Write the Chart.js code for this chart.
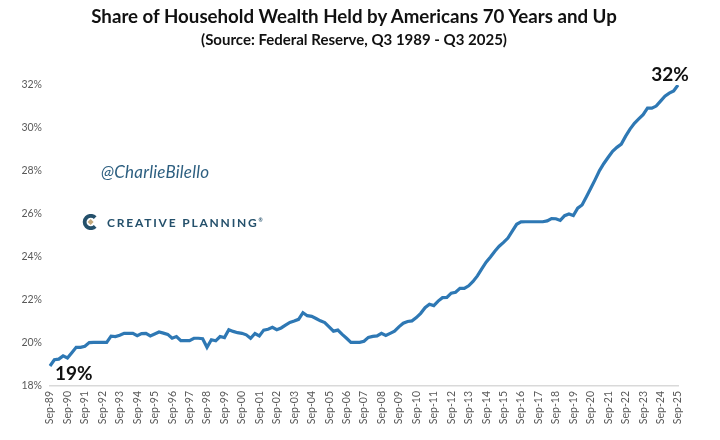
<!DOCTYPE html>
<html>
<head>
<meta charset="utf-8">
<script src="https://cdn.jsdelivr.net/npm/chart.js@4.4.1/dist/chart.umd.min.js"></script>
<style>
  html,body{margin:0;padding:0;background:#fff;}
  #wrap{position:relative;width:720px;height:440px;overflow:hidden;font-family:Lato,'Open Sans',sans-serif;}
  #wrap canvas{position:absolute;left:0;top:0;}
  .title{position:absolute;left:0;width:708px;text-align:center;color:#111;font-weight:bold;white-space:nowrap;}
  #t1{top:5px;font-size:18.7px;}
  #t2{top:30px;font-size:15px;}
  #handle{position:absolute;left:101px;top:161px;font-size:17px;font-style:italic;color:#2d5f80;letter-spacing:0.2px;}
  #logo{position:absolute;left:82px;top:214px;display:flex;align-items:center;}
  #logo span{margin-left:9px;font-size:12px;font-weight:bold;letter-spacing:1.8px;color:#24506b;}
  #logo sup{font-size:5px;letter-spacing:0;}
</style>
</head>
<body>
<div id="wrap">
  <canvas id="ch"></canvas>
  <div class="title" id="t1">Share of Household Wealth Held by Americans 70 Years and Up</div>
  <div class="title" id="t2">(Source: Federal Reserve, Q3 1989 - Q3 2025)</div>
  <div id="handle">@CharlieBilello</div>
  <div id="logo">
    <svg width="16" height="16" viewBox="0 0 16 16">
      <path d="M13.2 3.6 A6.2 6.2 0 1 0 13.2 12.4" stroke="#24506b" stroke-width="3.8" fill="none"/>
      <polygon points="8.6,5 11.6,8 8.6,11 5.6,8" fill="#c4a97c"/>
    </svg>
    <span>CREATIVE PLANNING<sup>®</sup></span>
  </div>
</div>
<script>
// quarterly, Q3 1989 .. Q3 2025
const months=['Sep','Dec','Mar','Jun'];
const quarters=[];
for(let y=1989;y<=2025;y++){
  months.forEach((m,k)=>{
    const yr=(k<2?y:y+1);
    quarters.push(m+'-'+String(yr%100).padStart(2,'0'));
  });
}
quarters.length=145;

// share held by 70+ (%)
const share=[
  18.93,19.22,19.25,19.40,19.30,19.55,19.80,19.80,19.85,20.02,
  20.03,20.03,20.03,20.03,20.32,20.30,20.36,20.45,20.45,20.45,
  20.34,20.44,20.45,20.33,20.42,20.51,20.46,20.40,20.22,20.30,
  20.11,20.11,20.11,20.22,20.22,20.20,19.80,20.15,20.10,20.30,
  20.25,20.62,20.54,20.48,20.45,20.38,20.22,20.44,20.33,20.60,
  20.64,20.73,20.62,20.70,20.83,20.96,21.02,21.10,21.41,21.27,
  21.24,21.14,21.03,20.95,20.75,20.55,20.60,20.40,20.22,20.03,
  20.03,20.03,20.08,20.26,20.31,20.33,20.45,20.35,20.45,20.55,
  20.75,20.92,21.00,21.03,21.18,21.38,21.64,21.80,21.74,21.95,
  22.11,22.12,22.32,22.36,22.54,22.54,22.66,22.86,23.12,23.45,
  23.76,24.00,24.27,24.50,24.68,24.88,25.20,25.52,25.63,25.64,
  25.64,25.64,25.64,25.64,25.68,25.79,25.78,25.70,25.92,26.00,
  25.93,26.27,26.42,26.80,27.20,27.60,28.02,28.35,28.64,28.92,
  29.10,29.25,29.62,29.95,30.22,30.42,30.62,30.92,30.92,31.02,
  31.25,31.48,31.62,31.72,32.00
];
const yTicks=[18,20,22,24,26,28,30,32];
const callouts=[{i:0,text:'19%'},{i:144,text:'32%'}];

const C={line:'#2e78b4',axis:'#d9d9d9',tick:'#595959',text:'#111'};

// start / end value labels
const calloutPlugin={
  id:'callouts',
  afterDatasetsDraw(chart){
    const {ctx,scales:{x,y}}=chart;
    ctx.save();
    ctx.font='bold 19px Lato, sans-serif';
    ctx.fillStyle=C.text;
    ctx.textBaseline='alphabetic';
    callouts.forEach(c=>{
      const px=x.getPixelForValue(c.i), py=y.getPixelForValue(share[c.i]);
      if(c.i===0){ ctx.textAlign='left'; ctx.fillText(c.text,px+5,py+14); }
      else { ctx.textAlign='center'; ctx.fillText(c.text,px-8,py-4); }
    });
    ctx.restore();
  }
};

new Chart(document.getElementById('ch'),{
  type:'line',
  data:{
    labels:quarters,
    datasets:[{
      data:share,
      borderColor:C.line,
      borderWidth:3.2,
      pointRadius:0,
      tension:0,
      fill:false
    }]
  },
  options:{
    responsive:true,maintainAspectRatio:false,animation:false,
    layout:{padding:{top:85,right:42,left:0,bottom:0}},
    plugins:{legend:{display:false},tooltip:{enabled:false}},
    scales:{
      x:{
        offset:false,
        grid:{display:false,drawTicks:false},
        border:{display:true,color:C.axis,width:1.5},
        ticks:{
          autoSkip:false,maxRotation:90,minRotation:90,padding:5,
          color:C.tick,font:{family:'Lato',size:10.5},
          callback:(v,i)=>i%4===0?quarters[i]:null
        },
        afterFit:s=>{s.height=54;}
      },
      y:{
        min:18,max:32,
        grid:{display:false,drawTicks:false},
        border:{display:false},
        afterBuildTicks:s=>{s.ticks=yTicks.map(v=>({value:v}));},
        ticks:{color:C.tick,padding:8,font:{family:'Lato',size:10.5},callback:v=>v+'%'},
        afterFit:s=>{s.width=50;}
      }
    }
  },
  plugins:[calloutPlugin]
});
</script>
</body>
</html>
